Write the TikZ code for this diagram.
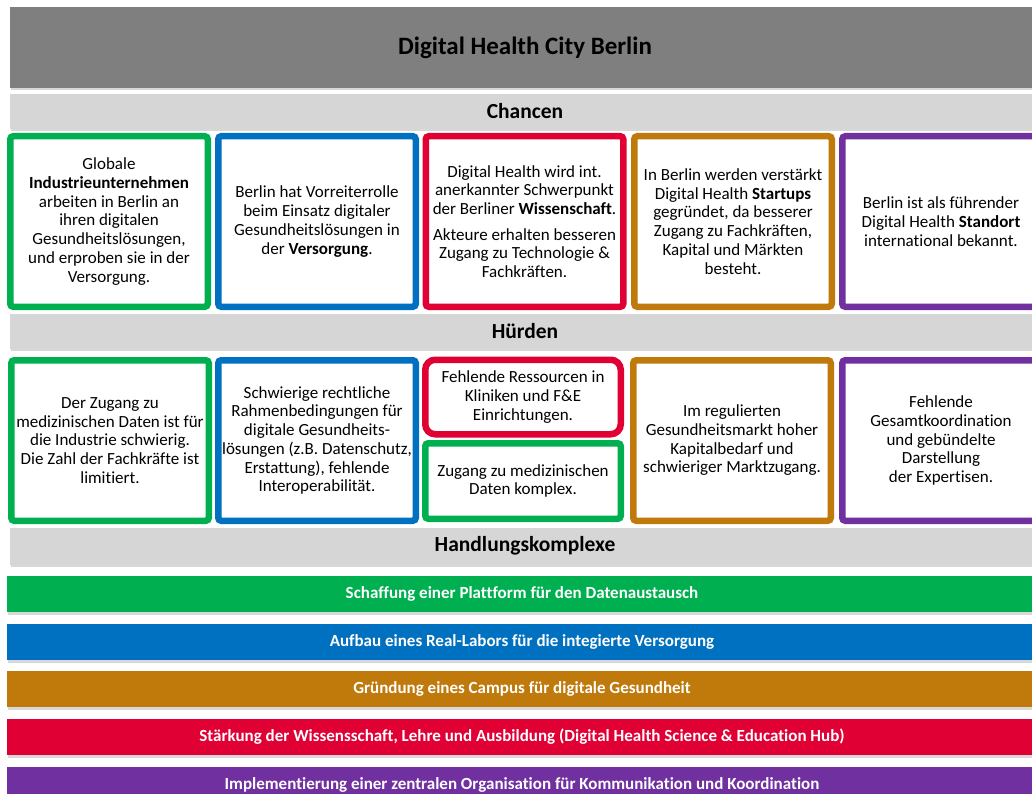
\documentclass[tikz,border=0pt]{standalone}
\usepackage{fontspec}
\setmainfont{Carlito}[Ligatures=NoCommon]
\usetikzlibrary{shadows}

\definecolor{dhgreen}{HTML}{00B050}
\definecolor{dhblue}{HTML}{0070C0}
\definecolor{dhred}{HTML}{E00034}
\definecolor{dhorange}{HTML}{C0790B}
\definecolor{dhpurple}{HTML}{7030A0}
\definecolor{dhgray}{HTML}{7F7F7F}
\definecolor{dhlight}{HTML}{D6D6D6}

\begin{document}
\begin{tikzpicture}[
    x=1pt, y=-1pt,
    font=\fontsize{17}{18.7}\selectfont,
    softshadow/.style={
        drop shadow={shadow xshift=1pt, shadow yshift=-2.5pt, opacity=.3}
    },
    titlebar/.style={
        rectangle,
        fill=dhgray,
        softshadow,
        minimum width=1030pt,
        minimum height=81pt,
        font=\fontsize{25}{30}\selectfont\bfseries
    },
    headbar/.style={
        rectangle,
        fill=dhlight,
        softshadow,
        minimum width=1030pt,
        minimum height=35pt,
        font=\fontsize{21.5}{26}\selectfont\bfseries
    },
    card/.style={
        rectangle,
        rounded corners=3pt,
        draw=#1,
        line width=6.5pt,
        fill=white,
        softshadow,
        align=center,
        inner sep=0pt,
        minimum width=197.5pt,
        minimum height=170.5pt
    },
    lowcard/.style={
        card=#1,
        minimum height=160.5pt
    },
    halfcard/.style={
        card=#1,
        minimum width=195.5pt,
        minimum height=74.5pt
    },
    actionbar/.style={
        rectangle,
        fill=#1,
        softshadow,
        text=white,
        minimum width=1030pt,
        minimum height=36pt,
        font=\fontsize{17}{20}\selectfont\bfseries
    }
]

\path[use as bounding box, fill=white] (0,0) rectangle (1032,794);
\clip (0,0) rectangle (1032,794);

% =========================================================
% Title and section headers
% =========================================================
\node[titlebar] (title) at (525,47.5) {Digital Health City Berlin};

\node[headbar] (chancen) at (525,111.5) {Chancen};

\node[headbar] (huerden) at (525,331) {Hürden};

\node[headbar, minimum height=37pt] (handlung) at (525,546) {Handlungskomplexe};

% =========================================================
% Chancen
% =========================================================
\node[card=dhgreen] (ch1) at (109,221.5)
{Globale\\\textbf{Industrieunternehmen}\\arbeiten in Berlin an\\ihren digitalen\\Gesundheitslösungen,\\und erproben sie in der\\Versorgung.};

\node[card=dhblue] (ch2) at (317,221.5)
{Berlin hat Vorreiterrolle\\beim Einsatz digitaler\\Gesundheitslösungen in\\der \textbf{Versorgung}.};

\node[card=dhred] (ch3) at (524.5,221.5)
{Digital Health wird int.\\anerkannter Schwerpunkt\\der Berliner \textbf{Wissenschaft}.\\[7pt]Akteure erhalten besseren\\Zugang zu Technologie \&\\Fachkräften.};

\node[card=dhorange] (ch4) at (733,221.5)
{In Berlin werden verstärkt\\Digital Health \textbf{Startups}\\gegründet, da besserer\\Zugang zu Fachkräften,\\Kapital und Märkten\\besteht.};

\node[card=dhpurple] (ch5) at (941,221.5)
{Berlin ist als führender\\Digital Health \textbf{Standort}\\international bekannt.};

% =========================================================
% Hürden
% =========================================================
\node[lowcard=dhgreen] (hu1) at (110,440.5)
{Der Zugang zu\\medizinischen Daten ist für\\die Industrie schwierig.\\Die Zahl der Fachkräfte ist\\limitiert.};

\node[lowcard=dhblue] (hu2) at (317,440.5)
{Schwierige rechtliche\\Rahmenbedingungen für\\digitale Gesundheits-\\lösungen (z.B. Datenschutz,\\Erstattung), fehlende\\Interoperabilität.};

\node[halfcard=dhred, rounded corners=10pt] (hu3a) at (523,397)
{Fehlende Ressourcen in\\Kliniken und F\&E\\Einrichtungen.};

\node[halfcard=dhgreen, minimum height=75.5pt] (hu3b) at (523,481)
{Zugang zu medizinischen\\Daten komplex.};

\node[lowcard=dhorange] (hu4) at (732,440.5)
{Im regulierten\\Gesundheitsmarkt hoher\\Kapitalbedarf und\\schwieriger Marktzugang.};

\node[lowcard=dhpurple] (hu5) at (941,440.5)
{Fehlende\\Gesamtkoordination\\und gebündelte\\Darstellung\\der Expertisen.};

% =========================================================
% Handlungskomplexe
% =========================================================
\node[actionbar=dhgreen] (hk1) at (522,594)
{Schaffung einer Plattform für den Datenaustausch};

\node[actionbar=dhblue] (hk2) at (522,642)
{Aufbau eines Real-Labors für die integierte Versorgung};

\node[actionbar=dhorange] (hk3) at (522,689)
{Gründung eines Campus für digitale Gesundheit};

\node[actionbar=dhred] (hk4) at (522,737)
{Stärkung der Wissensschaft, Lehre und Ausbildung (Digital Health Science \& Education Hub)};

\node[actionbar=dhpurple] (hk5) at (522,785)
{Implementierung einer zentralen Organisation für Kommunikation und Koordination};

\end{tikzpicture}
\end{document}
